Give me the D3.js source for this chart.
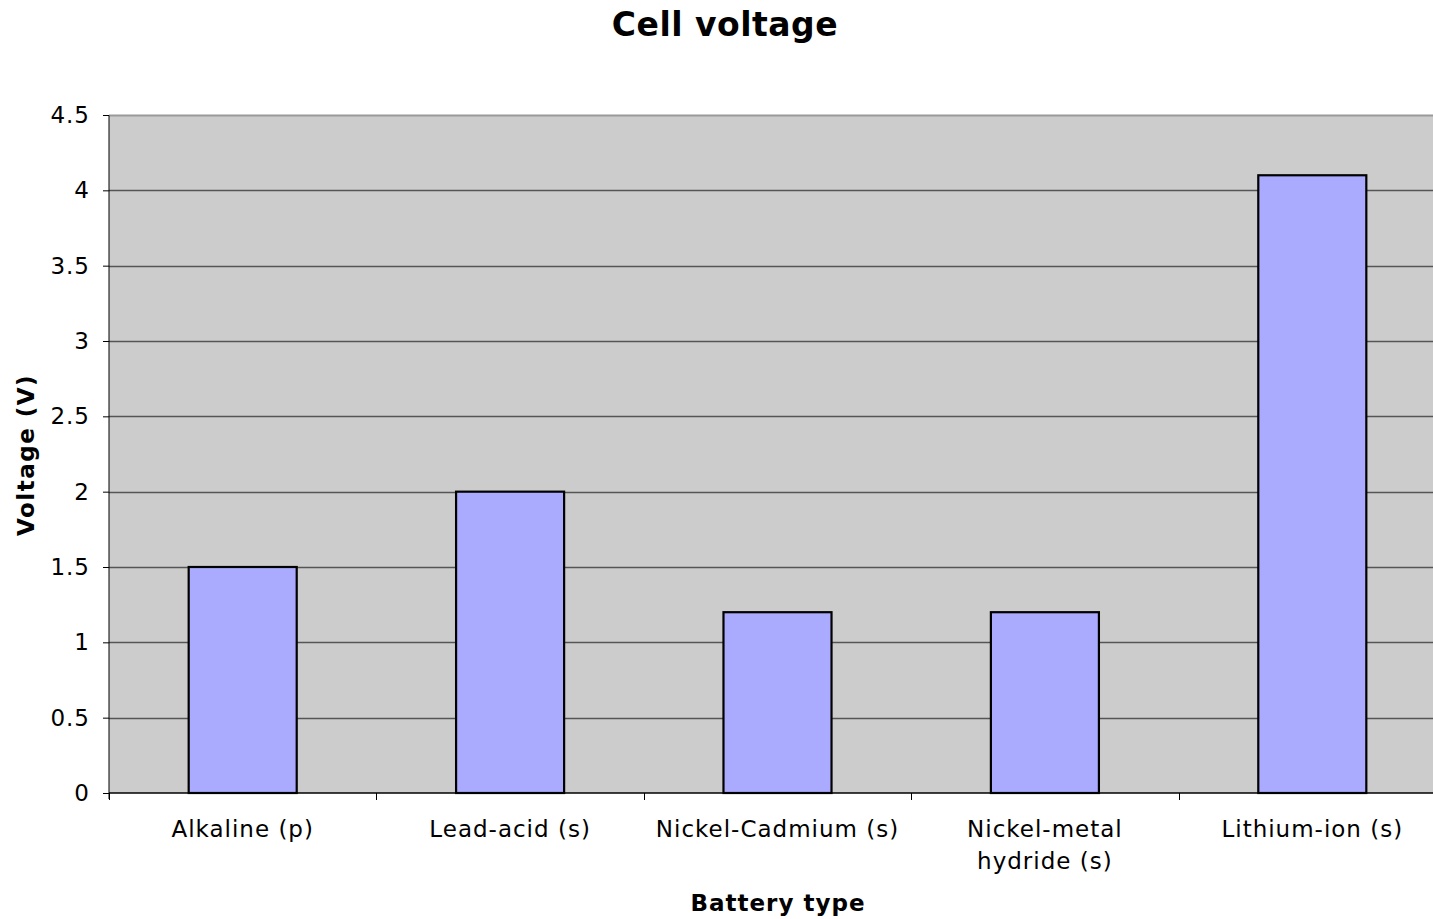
<!DOCTYPE html>
<html>
<head>
<meta charset="utf-8">
<script src="https://cdn.jsdelivr.net/npm/d3@7"></script>
<style>
  body { margin: 0; background: #fff; }
  text { font-family: "DejaVu Sans", Verdana, sans-serif; fill: #000; }
</style>
</head>
<body>
<div class="chart"></div>
<script>
let categories = ['Alkaline (p)', 'Lead-acid (s)', 'Nickel-Cadmium (s)', 'Nickel-metal|hydride (s)', 'Lithium-ion (s)'];
let voltages = [1.5, 2.0, 1.2, 1.2, 4.1];
let yTicks = [0, 0.5, 1, 1.5, 2, 2.5, 3, 3.5, 4, 4.5];

let canvas = d3.select('.chart')
  .append('svg')
  .attr('width', 1433)
  .attr('height', 919);

let plotLeft = 109, plotTop = 115, plotBottom = 793, plotRight = 1446;

let x = d3.scaleBand()
  .domain(categories)
  .range([plotLeft, plotRight])
  .paddingInner(0.596)
  .paddingOuter(0.298);

let xTick = d3.scaleBand()
  .domain(categories)
  .range([plotLeft, plotRight]);

let y = d3.scaleLinear()
  .domain([0, 4.5])
  .range([plotBottom, plotTop]);

// plot background
canvas.append('rect')
  .attr('x', plotLeft)
  .attr('y', plotTop)
  .attr('width', plotRight - plotLeft)
  .attr('height', plotBottom - plotTop)
  .attr('fill', '#cccccc');

// gridlines
canvas.selectAll('.grid')
  .data(yTicks.filter(d => d > 0 && d < 4.5))
  .enter().append('line')
  .attr('x1', plotLeft)
  .attr('x2', plotRight)
  .attr('y1', d => Math.round(y(d)) + 0.5)
  .attr('y2', d => Math.round(y(d)) + 0.5)
  .attr('stroke', '#555')
  .attr('stroke-width', 1.3);

// top border
canvas.append('line')
  .attr('x1', plotLeft).attr('x2', plotRight)
  .attr('y1', plotTop + 0.5).attr('y2', plotTop + 0.5)
  .attr('stroke', '#999').attr('stroke-width', 2);

// bars
canvas.selectAll('.bar')
  .data(voltages)
  .enter().append('rect')
  .attr('x', (d, i) => x(categories[i]))
  .attr('y', d => y(d))
  .attr('width', x.bandwidth())
  .attr('height', d => plotBottom - y(d))
  .attr('fill', '#aaaaff')
  .attr('stroke', '#000')
  .attr('stroke-width', 2.2);

// y axis
let yAxis = canvas.append('g')
  .attr('transform', `translate(${plotLeft},0)`)
  .call(d3.axisLeft(y).tickValues(yTicks).tickSize(6).tickPadding(13).tickFormat(d3.format('')));
yAxis.selectAll('text').style('font-size', '23px').style('letter-spacing', '1px').attr('fill', '#000');
yAxis.selectAll('line').attr('stroke', '#000');
yAxis.select('.domain').attr('stroke', '#000').attr('d', `M-6,${plotTop + 0.5}H0V${plotBottom + 6}`);

// x axis
let xAxis = canvas.append('g')
  .attr('transform', `translate(0,${plotBottom})`);
xAxis.append('line')
  .attr('x1', plotLeft).attr('x2', plotRight)
  .attr('y1', 0).attr('y2', 0)
  .attr('stroke', '#000').attr('stroke-width', 1.5);
xAxis.selectAll('.tick')
  .data(categories)
  .enter().append('line')
  .attr('x1', d => Math.round(xTick(d)) + 0.5)
  .attr('x2', d => Math.round(xTick(d)) + 0.5)
  .attr('y1', 0).attr('y2', 7)
  .attr('stroke', '#000');

let labels = xAxis.selectAll('.lbl')
  .data(categories)
  .enter().append('text')
  .attr('text-anchor', 'middle')
  .attr('x', d => x(d) + x.bandwidth() / 2)
  .attr('y', 44)
  .style('font-size', '23px')
  .style('letter-spacing', '1px');
labels.each(function (d) {
  let parts = d.split('|');
  let t = d3.select(this);
  parts.forEach((p, i) => {
    t.append('tspan')
      .attr('x', x(d) + x.bandwidth() / 2)
      .attr('dy', i === 0 ? 0 : 32)
      .text(p);
  });
});

// titles
canvas.append('text')
  .attr('x', 725).attr('y', 36)
  .attr('text-anchor', 'middle')
  .style('font-size', '33px').style('font-weight', 'bold').style('letter-spacing', '0.5px')
  .text('Cell voltage');

canvas.append('text')
  .attr('x', 778).attr('y', 911)
  .attr('text-anchor', 'middle')
  .style('font-size', '23px').style('font-weight', 'bold').style('letter-spacing', '1px')
  .text('Battery type');

canvas.append('text')
  .attr('transform', 'translate(34,455) rotate(-90)')
  .attr('text-anchor', 'middle')
  .style('font-size', '23px').style('font-weight', 'bold').style('letter-spacing', '1.5px')
  .text('Voltage (V)');
</script>
</body>
</html>
